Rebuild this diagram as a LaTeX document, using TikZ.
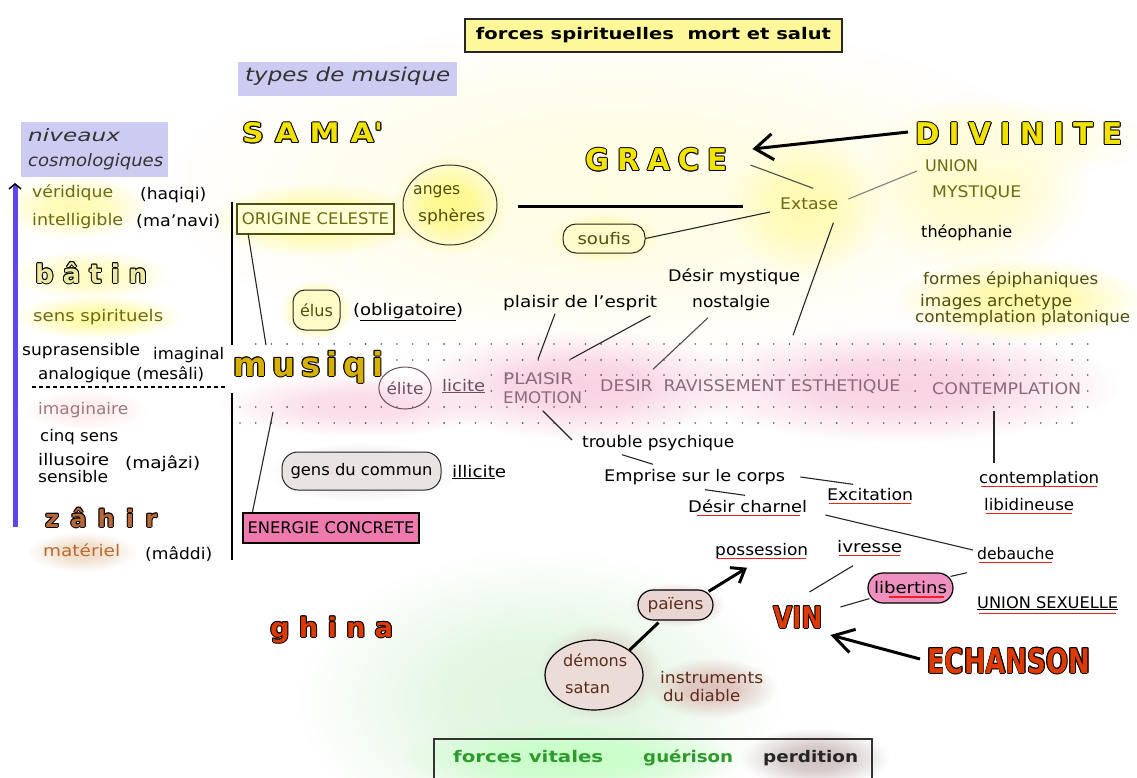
\documentclass[tikz,border=0pt]{standalone}
\usepackage{fontspec}
\setmainfont{DejaVu Sans}
\newfontfamily\bigf{DejaVu Sans Bold}
\usepackage{graphicx}
\usetikzlibrary{arrows.meta,calc,fadings,shapes.geometric}
\definecolor{cOlive}{HTML}{6B6B12}
\definecolor{cOlDark}{HTML}{4F4F10}
\definecolor{cPaleY}{HTML}{FFFFD6}
\definecolor{cTopY}{HTML}{FFF89A}
\definecolor{cLav}{HTML}{CCCCF2}
\definecolor{cBlue}{HTML}{5A48EE}
\definecolor{cImag}{HTML}{9A7A85}
\definecolor{cMat}{HTML}{B86A2E}
\definecolor{cZahir}{HTML}{B5693A}
\definecolor{cBatin}{HTML}{EEEAA5}
\definecolor{cYel}{HTML}{F2E200}
\definecolor{cMus}{HTML}{D7B000}
\definecolor{cRed}{HTML}{DD3A00}
\definecolor{cMauve}{HTML}{6E4E60}
\definecolor{cMauve2}{HTML}{8A6A7C}
\definecolor{cPink}{HTML}{EE7AAE}
\definecolor{cPinkB}{HTML}{EE90C0}
\definecolor{cBrownT}{HTML}{5C2C1C}
\definecolor{cGreen}{HTML}{2E9A2E}
\definecolor{cHaze}{HTML}{FFFDE4}
\definecolor{cGreenH}{HTML}{E0F6E0}
\definecolor{cGreyBr}{HTML}{D0C2C2}
\definecolor{cBrownG}{HTML}{F0DCC8}
\definecolor{cBrownGb}{HTML}{DEC2BC}
\definecolor{cGens}{HTML}{EAE3E3}
\definecolor{cPaiens}{HTML}{E9D6D2}
\definecolor{cDemons}{HTML}{EBDCD8}
\definecolor{cRedU}{HTML}{EE2020}
\definecolor{cDot}{HTML}{555555}
\definecolor{cPinkG}{HTML}{F9D2E2}
\pgfdeclareradialshading{softglowsh}{\pgfpointorigin}{color(0bp)=(white); color(10bp)=(white!85!black); color(25bp)=(black); color(50bp)=(black)}
\pgfdeclarefading{softglow}{\pgfuseshading{softglowsh}}
\newcommand\W[2]{\resizebox{#1pt}{\height}{#2}}
\newcommand\gp[1]{\kern#1pt\relax}
\newcommand\olt[2]{\leavevmode
 \rlap{\kern-1pt\textcolor{black}{#2}}%
 \rlap{\kern1pt\textcolor{black}{#2}}%
 \rlap{\raisebox{1pt}{\textcolor{black}{#2}}}%
 \rlap{\raisebox{-1pt}{\textcolor{black}{#2}}}%
 \rlap{\kern-0.7pt\raisebox{0.7pt}{\textcolor{black}{#2}}}%
 \rlap{\kern0.7pt\raisebox{0.7pt}{\textcolor{black}{#2}}}%
 \rlap{\kern-0.7pt\raisebox{-0.7pt}{\textcolor{black}{#2}}}%
 \rlap{\kern0.7pt\raisebox{-0.7pt}{\textcolor{black}{#2}}}%
 \textcolor{#1}{#2}}
\tikzset{
 glow/.style={fill=#1, path fading=softglow},
 tx/.style={inner sep=0pt, anchor=west, text height=11.5pt, text depth=3.5pt, font=\fontsize{16}{19}\selectfont},
 big/.style={inner sep=0pt, anchor=base west},
 conn/.style={draw=black!85, line width=1.1pt},
 redul/.style={draw=cRedU, line width=1.2pt},
 dotc/.style={fill=cDot},
 heavy/.style={line width=3pt},
}
\begin{document}
\begin{tikzpicture}[x=1pt,y=-1pt]
\useasboundingbox (0,0) rectangle (1137,778);
\fill[white] (0,0) rectangle (1137,778);
% ---------- glows ----------
\fill[glow=cHaze] (620,190) ellipse (450 and 170);
\fill[glow=yellow!30] (805,205) ellipse (80 and 72);
\fill[glow=yellow!20] (975,185) ellipse (115 and 90);
\fill[glow=yellow!12] (1010,140) ellipse (140 and 40);
\fill[glow=yellow!10] (655,160) ellipse (110 and 45);
\fill[glow=yellow!45] (450,205) ellipse (58 and 50);
\fill[glow=yellow!35] (315,220) ellipse (105 and 38);
\fill[glow=yellow!30] (75,207) ellipse (75 and 32);
\fill[glow=yellow!25] (90,275) ellipse (80 and 25);
\fill[glow=yellow!35] (98,317) ellipse (85 and 22);
\fill[glow=yellow!35] (1020,300) ellipse (125 and 42);
\fill[glow=yellow!50] (316,310) ellipse (36 and 30);
\fill[glow=yellow!40] (604,238) ellipse (55 and 25);
\fill[glow=cPinkG] (580,385) ellipse (170 and 55);
\fill[glow=cPinkG] (900,385) ellipse (220 and 58);
\fill[glow=cPinkG!80] (360,405) ellipse (140 and 32);
\fill[glow=pink!30] (85,410) ellipse (65 and 20);
\fill[glow=cBrownG] (82,552) ellipse (55 and 20);
\fill[glow=cGreenH] (540,700) ellipse (240 and 150);
\fill[glow=green!22] (570,758) ellipse (170 and 35);
\fill[glow=cGreyBr] (815,758) ellipse (75 and 30);
\fill[glow=cBrownGb] (600,672) ellipse (62 and 48);
\fill[glow=cBrownGb] (712,688) ellipse (65 and 30);
\fill[glow=cBrownGb] (677,605) ellipse (48 and 22);
\fill[glow=black!10] (362,472) ellipse (95 and 30);
% ---------- dot grid ----------
\foreach \i in {1,...,54} {\fill[dotc] ({240+15.7*\i},344) circle (0.9);}
\foreach \i in {10,...,54} {\fill[dotc] ({240+15.7*\i},360) circle (0.9);}
\foreach \i in {16,...,54} {\fill[dotc] ({240+15.7*\i},375) circle (0.9);}
\foreach \i in {16,22,43,54} {\fill[dotc] ({240+15.7*\i},391) circle (0.9);}
\foreach \i in {0,...,54} {\fill[dotc] ({240+15.7*\i},407) circle (0.9);}
\foreach \i in {0,...,53} {\fill[dotc] ({240+15.7*\i},423) circle (0.9);}
% ---------- boxes ----------
\node[draw=black!85, line width=1.5pt, fill=cTopY, minimum width=377pt, minimum height=33pt, inner sep=0pt, font=\fontsize{16}{19}\selectfont\bfseries] (topbox) at (653.5,35.5) {\W{355}{forces spirituelles\ \ mort et salut}};
\node[fill=cLav, minimum width=219pt, minimum height=34pt, inner sep=0pt] (typbox) at (347.5,79) {};
\node[tx, text=black!80, font=\fontsize{19}{22}\selectfont\itshape] (types) at (245,78) {\W{205}{types de musique}};
\node[fill=cLav, minimum width=147pt, minimum height=55pt, inner sep=0pt] (nivbox) at (94.5,149.5) {};
\node[tx, text=black!80, font=\fontsize{17}{20}\selectfont\itshape] (niv) at (28,138) {\W{92}{niveaux}};
\node[tx, text=black!80, font=\fontsize{17}{20}\selectfont\itshape] (cosmo) at (28,163) {\W{135}{cosmologiques}};
\node[draw=cOlDark, line width=1.5pt, fill=cPaleY, minimum width=157pt, minimum height=30pt, inner sep=0pt, text=cOlive, font=\fontsize{16}{19}\selectfont] (orig) at (315.5,219) {\W{147}{ORIGINE CELESTE}};
\node[draw=black, line width=1.2pt, fill=cPink, minimum width=176pt, minimum height=30pt, inner sep=0pt, font=\fontsize{16}{19}\selectfont] (energ) at (331,528) {\W{167}{ENERGIE CONCRETE}};
\node[ellipse, draw=black!80, line width=1pt, minimum width=94pt, minimum height=80pt, inner sep=0pt] (anges) at (450,205) {};
\node[tx, text=cOlDark] (ang) at (413,191) {\W{47}{anges}};
\node[tx, text=cOlDark] (sph) at (418,217) {\W{67}{sphères}};
\node[draw=black!85, line width=1pt, rounded corners=12pt, minimum width=47pt, minimum height=40pt, inner sep=0pt, fill=yellow!22, text=cOlDark, font=\fontsize{16}{19}\selectfont] (elus) at (316.5,310) {\W{33}{élus}};
\node[draw=black!85, line width=1pt, rounded corners=13pt, minimum width=82pt, minimum height=29pt, inner sep=0pt, fill=yellow!20, text=cOlDark, font=\fontsize{16}{19}\selectfont] (soufis) at (604,238.5) {\W{53}{soufis}};
\node[draw=black!85, line width=1pt, rounded corners=16pt, minimum width=159pt, minimum height=38pt, inner sep=0pt, fill=cGens, font=\fontsize{16}{19}\selectfont] (gens) at (361.5,471) {\W{142}{gens du commun}};
\node[ellipse, draw=cMauve, line width=1pt, minimum width=48pt, minimum height=42pt, inner sep=0pt, text=cMauve, font=\fontsize{16}{19}\selectfont] (elite) at (405,388) {\W{37}{élite}};
\node[draw=black, line width=1.2pt, rounded corners=15pt, minimum width=85pt, minimum height=30pt, inner sep=0pt, fill=cPinkB, font=\fontsize{16}{19}\selectfont] (libert) at (910.5,588) {\W{73}{libertins}};
\node[draw=black, line width=1.2pt, rounded corners=15pt, minimum width=75pt, minimum height=30pt, inner sep=0pt, fill=cPaiens, text=cBrownT, font=\fontsize{16}{19}\selectfont] (paiens) at (675.5,605) {\W{56}{païens}};
\node[ellipse, draw=black, line width=1.2pt, minimum width=98pt, minimum height=70pt, inner sep=0pt, fill=cDemons] (demons) at (594,675) {};
\node[tx, text=cBrownT] (dem) at (563,662) {\W{64}{démons}};
\node[tx, text=cBrownT] (satan) at (565,689) {\W{45}{satan}};
\node[draw=black!80, line width=1.3pt, minimum width=438pt, minimum height=60pt, inner sep=0pt] (botbox) at (653,769) {};
\node[tx, text=cGreen, font=\fontsize{16}{19}\selectfont\bfseries] (fvit) at (453,758) {\W{150}{forces vitales}};
\node[tx, text=cGreen, font=\fontsize{16}{19}\selectfont\bfseries] (guer) at (643,758) {\W{90}{guérison}};
\node[tx, text=black!85, font=\fontsize{16}{19}\selectfont\bfseries] (perd) at (763,758) {\W{95}{perdition}};
% ---------- left column ----------
\draw[line width=5pt, cBlue, -{Straight Barb[length=5pt,width=12pt,line width=1.5pt,black]}] (15,527) -- (15,183);
\node[tx, text=cOlive] (verid) at (32,193) {\W{81}{véridique}};
\node[tx] (haqiqi) at (140,196) {\W{66}{(haqiqi)}};
\node[tx, text=cOlive] (intel) at (32,221) {\W{91}{intelligible}};
\node[tx] (manavi) at (136,222) {\W{84}{(ma'navi)}};
\node[big] (batin) at (35,283) {\W{112}{\fontsize{26}{30}\bigf\olt{cBatin}{b\gp{9}â\gp{9}t\gp{9}i\gp{9}n}}};
\node[tx, text=cOlive] (sensp) at (33,317) {\W{130}{sens spirituels}};
\node[tx] (supra) at (22,351) {\W{118}{suprasensible}};
\node[tx] (imagl) at (153,355) {\W{71}{imaginal}};
\node[tx] (analog) at (38,375) {\W{166}{analogique (mesâli)}};
\draw[line width=1.2pt, dash pattern=on 4pt off 3pt] (32,387) -- (227,387);
\node[tx, text=cImag] (imagn) at (38,410) {\W{90}{imaginaire}};
\node[tx] (cinq) at (40,437) {\W{78}{cinq sens}};
\node[tx] (illus) at (38,461) {\W{71}{illusoire}};
\node[tx] (sensib) at (38,478) {\W{70}{sensible}};
\node[tx] (majazi) at (125,464) {\W{75}{(majâzi)}};
\node[big] (zahir) at (45,527) {\W{112}{\fontsize{24}{28}\bigf\olt{cZahir}{z\gp{11}â\gp{11}h\gp{11}i\gp{11}r}}};
\node[tx, text=cMat] (materiel) at (43,552) {\W{77}{matériel}};
\node[tx] (maddi) at (145,555) {\W{67}{(mâddi)}};
\draw[line width=1.3pt] (232,202) -- (232,345);
\draw[line width=1.3pt] (232,393) -- (232,560);
% ---------- big words ----------
\node[big] (sama) at (242,143) {\W{141}{\fontsize{27}{30}\bigf\olt{cYel}{S\gp{10}A\gp{10}M\gp{10}A'}}};
\node[big] (grace) at (585,171) {\W{142}{\fontsize{30}{34}\bigf\olt{cYel}{G\gp{8}R\gp{8}A\gp{8}C\gp{8}E}}};
\node[big] (divin) at (915,145) {\W{207}{\fontsize{30}{34}\bigf\olt{cYel}{D\gp{9}I\gp{9}V\gp{9}I\gp{9}N\gp{9}I\gp{9}T\gp{9}E}}};
\node[big] (musiqi) at (233,376) {\W{150}{\fontsize{33}{36}\bigf\olt{cMus}{m\gp{6}u\gp{6}s\gp{6}i\gp{6}q\gp{6}i}}};
\node[big] (vin) at (773,628) {\W{49}{\fontsize{30}{34}\bigf\olt{cRed}{VIN}}};
\node[big] (echan) at (927,673) {\W{163}{\fontsize{34}{38}\bigf\olt{cRed}{ECHANSON}}};
\node[big] (ghina) at (270,637) {\W{123}{\fontsize{27}{30}\bigf\olt{cRed}{g\gp{9}h\gp{9}i\gp{9}n\gp{9}a}}};
% ---------- texts ----------
\node[tx, text=cOlive] (extase) at (780,206) {\W{58}{Extase}};
\node[tx, text=cOlive] (union) at (925,168) {\W{53}{UNION}};
\node[tx, text=cOlive] (mystiq) at (932,193) {\W{89}{MYSTIQUE}};
\node[tx] (theoph) at (921,233) {\W{91}{théophanie}};
\node[tx] (desmys) at (668,277) {\W{132}{Désir mystique}};
\node[tx] (nostal) at (692,303) {\W{78}{nostalgie}};
\node[tx] (plaisir) at (503,303) {\W{154}{plaisir de l'esprit}};
\node[tx, text=cOlDark] (formes) at (923,280) {\W{175}{formes épiphaniques}};
\node[tx, text=cOlDark] (images) at (920,302) {\W{152}{images archetype}};
\node[tx, text=cOlDark] (contpl) at (915,318) {\W{215}{contemplation platonique}};
\node[tx] (oblig) at (353,311) {\W{110}{(\underline{obligatoire})}};
\node[tx, text=cMauve] (licite) at (442,387) {\W{43}{\underline{licite}}};
\node[tx, text=cMauve2] (plais2) at (503,380) {\W{70}{PLAISIR}};
\node[tx, text=cMauve2] (emot) at (503,399) {\W{79}{EMOTION}};
\node[tx, text=cMauve2] (desir) at (600,387) {\W{300}{DESIR\ \ RAVISSEMENT ESTHETIQUE}};
\node[tx, text=cMauve2] (contemp) at (932,390) {\W{149}{CONTEMPLATION}};
\node[tx] (illic) at (452,473) {\W{54}{\underline{illicit}e}};
\node[tx] (trouble) at (582,443) {\W{152}{trouble psychique}};
\node[tx] (emprise) at (604,477) {\W{181}{Emprise sur le corps}};
\node[tx] (excit) at (827,496) {\W{86}{Excitation}};
\node[tx] (desirc) at (688,508) {\W{119}{Désir charnel}};
\node[tx] (contl) at (979,479) {\W{120}{contemplation}};
\node[tx] (libid) at (984,506) {\W{90}{libidineuse}};
\node[tx] (debau) at (977,555) {\W{77}{debauche}};
\node[tx] (possess) at (715,551) {\W{93}{possession}};
\node[tx] (ivresse) at (837,548) {\W{65}{ivresse}};
\node[tx] (unisex) at (977,604) {\W{141}{\underline{UNION SEXUELLE}}};
\node[tx, text=cBrownT] (instr) at (660,679) {\W{103}{instruments}};
\node[tx, text=cBrownT] (diable) at (663,697) {\W{77}{du diable}};
% ---------- red underlines ----------
\foreach \n in {contl,libid,excit,debau,possess,ivresse}
  \draw[redul] ($(\n.south west)+(2,0)$) -- ($(\n.south east)+(-2,0)$);
\draw[redul] ($(unisex.south west)+(2,2)$) -- ($(unisex.south east)+(-2,2)$);
\draw[redul] ($(desirc.south west)+(9,0)$) -- ($(desirc.south east)+(-7,0)$);
\draw[redul] ($(libert.center)+(-22,9)$) -- ($(libert.center)+(33,9)$);
% ---------- connectors ----------
\draw[line width=3pt] ($(anges.east)+(20,1)$) -- ($(extase.west)+(-37,0)$);
\draw[heavy, -{Straight Barb[length=18pt,width=26pt]}] ($(divin.base west)+(-7,-13)$) -- ($(grace.base east)+(25,-22)$);
\draw[heavy, -{Straight Barb[length=12pt,width=18pt]}] ($(paiens.north east)+(-5,2)$) -- ($(possess.south west)+(32,9)$);
\draw[heavy] (demons.35) -- ($(paiens.south)+(-17,2)$);
\draw[heavy, -{Straight Barb[length=20pt,width=24pt]}] ($(echan.base west)+(-7,-14)$) -- ($(vin.base east)+(8,7)$);
\draw[conn] ($(orig.south west)+(12,0)$) -- ($(musiqi.base west)+(33,-31)$);
\draw[conn] ($(energ.north west)+(10,0)$) -- ($(musiqi.base west)+(40,36)$);
\draw[conn] (soufis.east) -- ($(extase.west)+(-10,6)$);
\draw[conn, draw=black!70] ($(grace.base east)+(23,-6)$) -- ($(extase.north)+(4,-10)$);
\draw[conn, draw=black!50] ($(extase.east)+(10,-7)$) -- ($(union.west)+(-8,3)$);
\draw[conn] ($(extase.south east)+(-5,9)$) -- ($(desir.north west)+(193,-44)$);
\draw[conn, draw=black!70] ($(nostal.south west)+(16,7)$) -- ($(desir.north west)+(53,-10)$);
\draw[conn] ($(plaisir.south west)+(52,3)$) -- ($(plais2.north west)+(35,-13)$);
\draw[conn] ($(plaisir.south east)+(-7,5)$) -- ($(plais2.north east)+(-3,-13)$);
\draw[conn] ($(emot.south)+(0,4)$) -- ($(trouble.west)+(-10,-3)$);
\draw[conn] ($(trouble.south west)+(40,4)$) -- ($(emprise.north west)+(49,-5)$);
\draw[conn] ($(emprise.east)+(15,0)$) -- ($(excit.north west)+(26,-4)$);
\draw[conn] ($(emprise.south west)+(101,5)$) -- ($(desirc.north west)+(57,-5)$);
\draw[conn] ($(desirc.east)+(18,7)$) -- ($(debau.west)+(-4,-5)$);
\draw[conn] ($(debau.south west)+(-10,10)$) -- ($(libert.north east)+(-3,4)$);
\draw[conn] ($(libert.south west)+(2,-5)$) -- ($(vin.base east)+(18,-21)$);
\draw[conn] ($(ivresse.south west)+(16,10)$) -- ($(vin.base east)+(-13,-36)$);
\draw[conn] ($(contemp.south west)+(62,13)$) -- ($(contl.north west)+(15,-8)$);
\end{tikzpicture}
\end{document}
